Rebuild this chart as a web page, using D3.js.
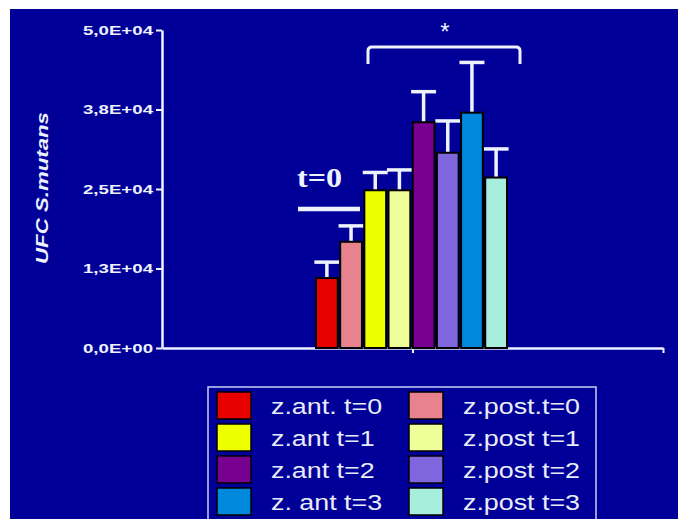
<!DOCTYPE html>
<html>
<head>
<meta charset="utf-8">
<script src="https://d3js.org/d3.v7.min.js"></script>
<style>
  body { margin: 0; background: #fff; }
  svg { display: block; }
</style>
</head>
<body>
<div id="chart"></div>
<script>
// bar order as drawn (anterior / posterior at each time)
const series = ["z.ant. t=0", "z.post.t=0", "z.ant t=1", "z.post t=1",
                "z.ant t=2", "z.post t=2", "z. ant t=3", "z.post t=3"];
const means  = [11000, 16700, 24800, 24800, 35500, 30700, 37000, 26800];
const upper  = [13500, 19200, 27600, 28000, 40300, 35700, 44900, 31300];
const colors = ["#e80000", "#e8828e", "#eeff00", "#eeff99",
                "#780090", "#8066de", "#0088dc", "#a8eedc"];
const yTicks = [0, 12500, 25000, 37500, 50000];
const yTickLabels = ["0,0E+00", "1,3E+04", "2,5E+04", "3,8E+04", "5,0E+04"];

const W = 678, H = 519;
const ink = "#eef2ff";

const svg = d3.select("#chart").append("svg")
    .attr("width", W).attr("height", H);

svg.append("rect").attr("x", 10).attr("y", 9)
    .attr("width", W - 10).attr("height", H - 9)
    .attr("fill", "#000099");

const y = d3.scaleLinear().domain([0, 50000]).range([348, 30]);
const x = d3.scaleBand().domain(series).range([316, 507]).paddingInner(0.1);
const xAxisScale = d3.scaleLinear().domain([0, 2]).range([162, 663]);

// y axis
const yAxis = svg.append("g")
    .attr("transform", "translate(162,0)")
    .call(d3.axisLeft(y).tickValues(yTicks)
      .tickFormat((d, i) => yTickLabels[i])
      .tickSize(6).tickSizeOuter(0).tickPadding(3));
yAxis.select(".domain").attr("stroke", ink).attr("stroke-width", 2.5);
yAxis.selectAll(".tick line").attr("stroke", ink).attr("stroke-width", 2);
yAxis.selectAll(".tick text")
    .attr("fill", ink)
    .style("font-family", "Liberation Sans, Arial, sans-serif")
    .style("font-weight", "bold")
    .style("font-size", "13.5px")
    .attr("textLength", 70)
    .attr("lengthAdjust", "spacingAndGlyphs");

// x axis
const xAxis = svg.append("g")
    .attr("transform", "translate(0,348)")
    .call(d3.axisBottom(xAxisScale).tickValues([1, 2])
      .tickFormat("").tickSize(5).tickSizeOuter(0));
xAxis.select(".domain").attr("stroke", ink).attr("stroke-width", 2.5);
xAxis.selectAll(".tick line").attr("stroke", ink).attr("stroke-width", 2);

// y label
svg.append("text")
    .attr("transform", "translate(48,188) rotate(-90)")
    .attr("text-anchor", "middle")
    .attr("fill", ink)
    .style("font-family", "Liberation Sans, Arial, sans-serif")
    .style("font-weight", "bold")
    .style("font-style", "italic")
    .style("font-size", "17px")
    .attr("textLength", 152)
    .attr("lengthAdjust", "spacingAndGlyphs")
    .text("UFC S.mutans");

// error bars
const eb = svg.append("g").attr("stroke", ink).attr("stroke-width", 3.5);
series.forEach((s, i) => {
  const cx = x(s) + x.bandwidth() / 2;
  eb.append("line").attr("x1", cx).attr("x2", cx)
    .attr("y1", y(means[i])).attr("y2", y(upper[i]));
  eb.append("line").attr("x1", cx - 12.5).attr("x2", cx + 12.5)
    .attr("y1", y(upper[i])).attr("y2", y(upper[i]));
});

// bars
svg.append("g").selectAll("rect").data(series).join("rect")
    .attr("x", d => x(d))
    .attr("y", (d, i) => y(means[i]))
    .attr("width", x.bandwidth())
    .attr("height", (d, i) => y(0) - y(means[i]))
    .attr("fill", (d, i) => colors[i])
    .attr("stroke", "#000").attr("stroke-width", 2);

// t=0 marker
svg.append("text")
    .attr("x", 297).attr("y", 187)
    .attr("fill", ink)
    .style("font-family", "Liberation Serif, Times New Roman, serif")
    .style("font-weight", "bold")
    .style("font-size", "27px")
    .attr("textLength", 45)
    .attr("lengthAdjust", "spacingAndGlyphs")
    .text("t=0");
svg.append("line").attr("x1", 298).attr("x2", 360)
    .attr("y1", 209).attr("y2", 209)
    .attr("stroke", ink).attr("stroke-width", 4.5);

// significance bracket
const bx0 = 368, bx1 = 520, by = 47, bl = 64, r = 4;
svg.append("path")
    .attr("d", `M${bx0},${bl} V${by + r} Q${bx0},${by} ${bx0 + r},${by} H${bx1 - r} Q${bx1},${by} ${bx1},${by + r} V${bl}`)
    .attr("fill", "none").attr("stroke", ink).attr("stroke-width", 3);
svg.append("text")
    .attr("x", 445).attr("y", 40)
    .attr("text-anchor", "middle")
    .attr("fill", ink)
    .style("font-family", "Liberation Sans, Arial, sans-serif")
    .style("font-size", "24px")
    .text("*");

// legend
const lg = svg.append("g");
lg.append("rect").attr("x", 208).attr("y", 387)
    .attr("width", 388).attr("height", 150)
    .attr("fill", "none").attr("stroke", "#c8d0f4").attr("stroke-width", 1.5);
series.forEach((s, i) => {
  const col = i % 2, row = Math.floor(i / 2);
  const sx = col === 0 ? 217 : 409;
  const tx = col === 0 ? 271 : 463;
  const sy = 392 + row * 32;
  lg.append("rect").attr("x", sx).attr("y", sy)
    .attr("width", 34).attr("height", 27)
    .attr("fill", colors[i]).attr("stroke", "#000").attr("stroke-width", 1.5);
  lg.append("text")
    .attr("transform", `translate(${tx},${sy + 21.5}) scale(1.22,1)`)
    .attr("fill", "#e8ecf8")
    .style("font-family", "Liberation Sans, Arial, sans-serif")
    .style("font-size", "22px")
    .text(s);
});
</script>
</body>
</html>
